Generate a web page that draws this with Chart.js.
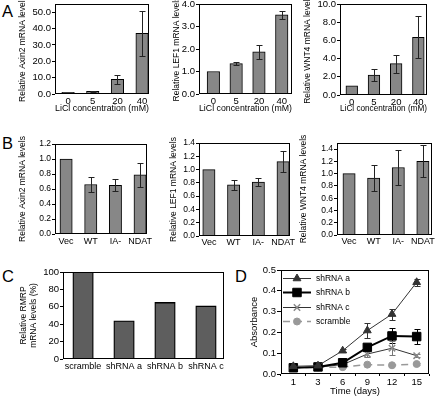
<!DOCTYPE html>
<html><head><meta charset="utf-8">
<script src="https://cdn.jsdelivr.net/npm/chart.js@4/dist/chart.umd.min.js"></script>
<style>
html,body{margin:0;padding:0;background:#fff;width:435px;height:396px;overflow:hidden;position:relative;font-family:"Liberation Sans",Arial,Helvetica,sans-serif;}
canvas{position:absolute;}
.lbl{position:absolute;font-size:16.5px;line-height:16px;color:#000;}
</style></head><body>
<div class="lbl" style="left:2px;top:3px">A</div>
<div class="lbl" style="left:2px;top:135px">B</div>
<div class="lbl" style="left:2px;top:268px">C</div>
<div class="lbl" style="left:235px;top:268px">D</div>
<script>
// ---------- data ----------
const liclDoses = ['0', '5', '20', '40'];
const axin2LiCl = [1.0, 1.7, 8.9, 37.0];
const axin2LiClErr = [0, 0.3, 2.8, 14.0];
const lef1LiCl = [1.0, 1.35, 1.87, 3.52];
const lef1LiClErr = [0, 0.07, 0.32, 0.18];
const wnt4LiCl = [1.0, 2.2, 3.45, 6.35];
const wnt4LiClErr = [0, 0.68, 0.98, 2.3];

const constructs = ['Vec', 'WT', 'IA-', 'NDAT'];
const axin2Con = [1.0, 0.66, 0.65, 0.79];
const axin2ConErr = [0, 0.10, 0.08, 0.16];
const lef1Con = [1.0, 0.77, 0.81, 1.12];
const lef1ConErr = [0, 0.07, 0.06, 0.16];
const wnt4Con = [1.0, 0.93, 1.10, 1.20];
const wnt4ConErr = [0, 0.21, 0.29, 0.26];

const knockdowns = ['scramble', 'shRNA a', 'shRNA b', 'shRNA c'];
const rmrpLevels = [100, 44, 65, 61];

const days = ['1', '3', '6', '9', '12', '15'];
const seriesNames = ['shRNA a', 'shRNA b', 'shRNA c', 'scramble'];
const shA = [0.037, 0.040, 0.112, 0.209, 0.288, 0.441];
const shAErr = [0.004, 0.004, 0.008, 0.034, 0.026, 0.018];
const shB = [0.030, 0.034, 0.054, 0.128, 0.183, 0.180];
const shBErr = [0.003, 0.003, 0.006, 0.015, 0.036, 0.035];
const shC = [0.030, 0.033, 0.045, 0.096, 0.124, 0.088];
const shCErr = [0.003, 0.003, 0.005, 0.015, 0.035, 0.008];
const scr = [0.031, 0.032, 0.033, 0.045, 0.042, 0.048];
const scrErr = [0.002, 0.002, 0.003, 0.004, 0.004, 0.004];

// ---------- setup ----------
const FONT = '"Liberation Sans", Arial, Helvetica, sans-serif';
Chart.defaults.font.family = FONT;
Chart.defaults.color = '#000';

const frame = {
  id: 'frame',
  afterDatasetsDraw(chart) {
    const {ctx, chartArea: a} = chart;
    ctx.save();
    ctx.strokeStyle = '#000';
    ctx.lineWidth = 1;
    ctx.strokeRect(Math.round(a.left) + 0.5, Math.round(a.top) + 0.5,
      Math.round(a.right - a.left) - 1, Math.round(a.bottom - a.top) - 1);
    ctx.restore();
  }
};

function drawErr(chart, opts) {
  const {ctx} = chart;
  const ys = chart.scales.y;
  chart.data.datasets.forEach((ds, di) => {
    const errs = opts.errors[di];
    if (!errs) return;
    const meta = chart.getDatasetMeta(di);
    ctx.save();
    ctx.strokeStyle = (opts.colors && opts.colors[di]) || '#222';
    ctx.lineWidth = 1;
    meta.data.forEach((el, i) => {
      const e = errs[i];
      if (!e) return;
      const raw = ds.data[i];
      const v = (typeof raw === 'object') ? raw.y : raw;
      const x = Math.round(el.x) + 0.5;
      const y1 = Math.round(ys.getPixelForValue(v + e)) + 0.5;
      const y2 = Math.round(ys.getPixelForValue(v - e)) + 0.5;
      const c = opts.cap || 3;
      ctx.beginPath();
      ctx.moveTo(x, y1); ctx.lineTo(x, y2);
      ctx.moveTo(x - c, y1); ctx.lineTo(x + c, y1);
      ctx.moveTo(x - c, y2); ctx.lineTo(x + c, y2);
      ctx.stroke();
    });
    ctx.restore();
  });
}
const errorBars = {
  id: 'errorBars',
  beforeDatasetsDraw(chart, args, opts) { if (opts && opts.errors && opts.under) drawErr(chart, opts); },
  afterDatasetsDraw(chart, args, opts) { if (opts && opts.errors && !opts.under) drawErr(chart, opts); }
};

const lineLegend = {
  id: 'lineLegend',
  afterDraw(chart, args, opts) {
    if (!opts || !opts.display) return;
    const {ctx, chartArea: a} = chart;
    chart.data.datasets.forEach((ds, i) => {
      const y = Math.round(a.top + opts.firstRow + i * opts.rowGap) + 0.5;
      const x0 = a.left + opts.lineStart, x1 = a.left + opts.lineEnd;
      ctx.save();
      ctx.strokeStyle = ds.borderColor;
      ctx.lineWidth = ds.borderWidth;
      ctx.setLineDash(ds.borderDash || []);
      ctx.beginPath(); ctx.moveTo(x0, y); ctx.lineTo(x1, y); ctx.stroke();
      ctx.setLineDash([]);
      ctx.fillStyle = ds.pointBackgroundColor || ds.pointBorderColor;
      ctx.strokeStyle = ds.pointBorderColor;
      ctx.lineWidth = ds.pointBorderWidth || 1;
      Chart.helpers.drawPoint(ctx, {pointStyle: ds.pointStyle, radius: ds.pointRadius, borderWidth: ds.pointBorderWidth || 1, rotation: 0}, (x0 + x1) / 2, y);
      ctx.fillStyle = '#000';
      ctx.font = opts.fontSize + 'px ' + FONT;
      ctx.textBaseline = 'middle';
      ctx.textAlign = 'left';
      ctx.fillText(ds.label, a.left + opts.textStart, y);
      ctx.restore();
    });
  }
};
Chart.register(frame, errorBars, lineLegend);

function makeCanvas(g) {
  const c = document.createElement('canvas');
  c.width = g.w; c.height = g.h;
  c.style.left = g.cx + 'px'; c.style.top = g.cy + 'px';
  c.style.width = g.w + 'px'; c.style.height = g.h + 'px';
  document.body.appendChild(c);
  return c;
}

function barPanel(g, labels, values, errs, o) {
  const cv = makeCanvas(g);
  const ytLH = 1.2, ytSize = o.ytFont || 8.5;
  const xtSize = o.xtFont || 9;
  return new Chart(cv, {
    type: 'bar',
    data: {
      datasets: [{
        data: values.map((v, i) => ({x: i, y: v})),
        backgroundColor: o.fill,
        borderColor: '#000',
        borderWidth: o.bw || 1,
        borderSkipped: 'start',
        barThickness: o.barW
      }]
    },
    options: {
      responsive: false,
      animation: false,
      devicePixelRatio: 1,
      layout: {padding: {left: 0, top: g.T - g.cy, right: g.cx + g.w - g.R, bottom: 0}},
      plugins: {
        legend: {display: false},
        tooltip: {enabled: false},
        errorBars: errs ? {errors: [errs], colors: ['#222'], cap: 3} : {}
      },
      scales: {
        x: {
          type: 'linear', min: o.xmin, max: o.xmax, offset: false,
          grid: {display: false, drawTicks: false, offset: false}, border: {display: false},
          ticks: {
            stepSize: 1, includeBounds: false, autoSkip: false, maxRotation: 0, minRotation: 0,
            padding: o.xPad, font: {size: o.xFont || 9},
            callback: v => (labels[v] !== undefined ? labels[v] : '')
          },
          title: o.xTitle ? {display: true, text: o.xTitle, font: {size: xtSize},
            padding: {top: 0, bottom: Math.max(0, g.cy + g.h - o.xtY - xtSize * 0.6)}} : {display: false},
          afterFit: s => { s.height = g.cy + g.h - g.B; }
        },
        y: {
          min: 0, max: o.ymax,
          grid: {display: true, drawOnChartArea: false, drawTicks: true, tickLength: 3, color: '#000'},
          border: {display: false},
          ticks: {stepSize: o.ystep, includeBounds: false, autoSkip: false, padding: 1, font: {size: o.yFont || 9},
            callback: v => o.fmt(v)},
          title: {display: true, text: o.yTitle, font: {size: ytSize, lineHeight: o.ytLH || ytLH},
            padding: {top: o.ytX - g.cx - ytSize * (o.ytLH || ytLH) / 2, bottom: 0}},
          afterFit: s => { s.width = g.L - g.cx; }
        }
      }
    }
  });
}

const f1 = v => v.toFixed(1);
const f0 = v => String(Math.round(v));
const BAR = '#878787';

// ---------- Panel A ----------
barPanel({cx: 0, cy: -8, w: 158, h: 126, L: 55, T: 4, R: 149, B: 94}, liclDoses, axin2LiCl, axin2LiClErr,
  {fill: BAR, barW: 12.5, xmin: -0.53, xmax: 3.28, ymax: 55, ystep: 10, fmt: f1, yFont: 9.5, xFont: 9.5,
   yTitle: 'Relative Axin2 mRNA levels', ytX: 23, xTitle: 'LiCl concentration (mM)', xtY: 109, xPad: 2});
barPanel({cx: 150, cy: -8, w: 150, h: 126, L: 199, T: 4, R: 292, B: 94}, liclDoses, lef1LiCl, lef1LiClErr,
  {fill: BAR, barW: 12.5, xmin: -0.63, xmax: 3.45, ymax: 4, ystep: 1, fmt: f1, yFont: 9.5, xFont: 9.5,
   yTitle: 'Relative LEF1 mRNA levels', ytX: 177, xTitle: 'LiCl concentration (mM)', xtY: 109, xPad: 2});
barPanel({cx: 295, cy: -8, w: 145, h: 126, L: 340, T: 4, R: 427, B: 95}, liclDoses, wnt4LiCl, wnt4LiClErr,
  {fill: BAR, barW: 11.7, xmin: -0.53, xmax: 3.39, ymax: 10, ystep: 2, fmt: f1, yFont: 9.5, xFont: 9.5,
   yTitle: 'Relative WNT4 mRNA levels', ytX: 308, xTitle: 'LiCl concentration (mM)', xtY: 109, xPad: 2});

// ---------- Panel B ----------
barPanel({cx: 0, cy: 132, w: 155, h: 120, L: 55, T: 144, R: 147, B: 234}, constructs, axin2Con, axin2ConErr,
  {fill: BAR, barW: 12.3, xmin: -0.45, xmax: 3.28, ymax: 1.2, ystep: 0.2, fmt: f1, yFont: 8.5,
   yTitle: 'Relative Axin2 mRNA levels', ytX: 23, xPad: 2});
barPanel({cx: 150, cy: 132, w: 148, h: 120, L: 199, T: 143, R: 290, B: 236}, constructs, lef1Con, lef1ConErr,
  {fill: BAR, barW: 12.3, xmin: -0.40, xmax: 3.28, ymax: 1.4, ystep: 0.2, fmt: f1, yFont: 8.5,
   yTitle: 'Relative LEF1 mRNA levels', ytX: 174, xPad: 1});
barPanel({cx: 295, cy: 132, w: 145, h: 120, L: 337, T: 143, R: 432, B: 235}, constructs, wnt4Con, wnt4ConErr,
  {fill: BAR, barW: 12.3, xmin: -0.49, xmax: 3.37, ymax: 1.5, ystep: 0.2, fmt: f1, yFont: 8.5,
   yTitle: 'Relative WNT4 mRNA levels', ytX: 304, xPad: 1});

// ---------- Panel C ----------
barPanel({cx: 0, cy: 262, w: 232, h: 134, L: 63, T: 272, R: 224, B: 359}, knockdowns, rmrpLevels, null,
  {fill: '#5e5e5e', bw: 1.3, barW: 20.5, xmin: -0.49, xmax: 3.44, ymax: 100, ystep: 20, fmt: f0, yFont: 9.5,
   yTitle: ['Relative RMRP', 'mRNA levels (%)'], ytX: 24, ytLH: 1.1, xPad: 2});

// ---------- Panel D ----------
(function () {
  const g = {cx: 232, cy: 260, w: 205, h: 140, L: 281, T: 270, R: 429, B: 374};
  const cv = makeCanvas(g);
  const fs = 9.5;
  new Chart(cv, {
    type: 'line',
    data: {
      labels: days,
      datasets: [
        {label: seriesNames[0], data: shA, borderColor: '#333', borderWidth: 1, tension: 0,
         pointStyle: 'triangle', pointRadius: 4.5, pointBackgroundColor: '#333', pointBorderColor: '#333', pointBorderWidth: 1},
        {label: seriesNames[1], data: shB, borderColor: '#000', borderWidth: 2, tension: 0,
         pointStyle: 'rect', pointRadius: 6, pointBackgroundColor: '#000', pointBorderColor: '#000', pointBorderWidth: 1},
        {label: seriesNames[2], data: shC, borderColor: '#333', borderWidth: 1, tension: 0,
         pointStyle: 'crossRot', pointRadius: 4.5, pointBackgroundColor: '#8a8a8a', pointBorderColor: '#8a8a8a', pointBorderWidth: 1.5},
        {label: seriesNames[3], data: scr, borderColor: '#999', borderWidth: 1.5, borderDash: [7, 5], tension: 0,
         pointStyle: 'circle', pointRadius: 3.5, pointBackgroundColor: '#999', pointBorderColor: '#999', pointBorderWidth: 1}
      ]
    },
    options: {
      responsive: false, animation: false, devicePixelRatio: 1,
      layout: {padding: {left: 0, top: g.T - g.cy, right: g.cx + g.w - g.R, bottom: 0}},
      plugins: {
        legend: {display: false}, tooltip: {enabled: false},
        errorBars: {errors: [shAErr, shBErr, shCErr, scrErr], colors: ['#333', '#000', '#777', '#999'], cap: 3, under: true},
        lineLegend: {display: true, firstRow: 7.5, rowGap: 14.5, lineStart: 2, lineEnd: 30, textStart: 35, fontSize: 8.5}
      },
      scales: {
        x: {
          type: 'category', offset: true,
          grid: {display: true, offset: true, drawOnChartArea: false, drawTicks: true, tickLength: 2, color: '#000'},
          border: {display: false},
          ticks: {padding: 1, autoSkip: false, maxRotation: 0, font: {size: fs}},
          title: {display: true, text: 'Time (days)', font: {size: fs}, padding: {top: 0, bottom: 400 - 391 - fs * 0.6}},
          afterFit: s => { s.height = g.cy + g.h - g.B; }
        },
        y: {
          min: 0, max: 0.5,
          grid: {display: true, drawOnChartArea: false, drawTicks: true, tickLength: 4, color: '#000'},
          border: {display: false},
          ticks: {stepSize: 0.1, includeBounds: false, autoSkip: false, padding: 1, font: {size: fs}, callback: v => v.toFixed(1)},
          title: {display: true, text: 'Absorbance', font: {size: fs}, padding: {top: 254 - g.cx - fs * 0.6, bottom: 0}},
          afterFit: s => { s.width = g.L - g.cx; }
        }
      }
    }
  });
})();
</script>
</body></html>
